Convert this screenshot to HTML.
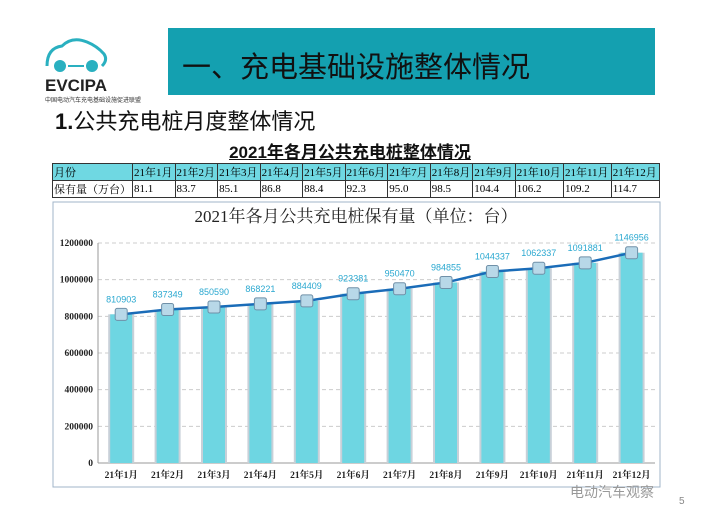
<!DOCTYPE html><html><head><meta charset="utf-8"><style>
body{margin:0;width:717px;height:509px;background:#fff;position:relative;overflow:hidden;font-family:"Liberation Sans","Noto Sans CJK SC",sans-serif}
.a{position:absolute}
table{border-collapse:collapse;font-family:"Liberation Serif","Noto Serif CJK SC",serif;font-size:11px}
td{border:1px solid #333;padding:0 1px;height:16px;white-space:nowrap}
</style></head><body>
<div class="a" style="left:168px;top:28px;width:487px;height:67px;background:#14a0b0"></div>
<div class="a" style="left:182px;top:44px;font-size:29px;color:#111;font-family:'Noto Sans CJK SC',sans-serif">一、充电基础设施整体情况</div>
<svg class="a" style="left:42px;top:36px" width="70" height="40"><path d="M5 30 Q5 12 20 10 Q30 0 45 6 Q55 10 62 18 Q66 24 60 30" fill="none" stroke="#2ab0c0" stroke-width="3"/><circle cx="18" cy="30" r="6" fill="#2ab0c0"/><circle cx="50" cy="30" r="6" fill="#2ab0c0"/><line x1="26" y1="30" x2="42" y2="30" stroke="#2ab0c0" stroke-width="2"/></svg>
<div class="a" style="left:45px;top:76px;font-size:17px;font-weight:bold;color:#222">EVCIPA</div>
<div class="a" style="left:45px;top:95px;font-size:6px;color:#333">中国电动汽车充电基础设施促进联盟</div>
<div class="a" style="left:55px;top:104px;font-size:22px;color:#111"><b>1.</b>公共充电桩月度整体情况</div>
<div class="a" style="left:0;width:700px;top:138px;text-align:center;font-size:17px;font-weight:bold;text-decoration:underline;color:#111">2021年各月公共充电桩整体情况</div>
<table class="a" style="left:52px;top:163px;width:608px">
<tr style="background:#6fd8e2"><td style="width:70px">月份</td><td>21年1月</td><td>21年2月</td><td>21年3月</td><td>21年4月</td><td>21年5月</td><td>21年6月</td><td>21年7月</td><td>21年8月</td><td>21年9月</td><td>21年10月</td><td>21年11月</td><td>21年12月</td></tr>
<tr><td>保有量（万台）</td><td>81.1</td><td>83.7</td><td>85.1</td><td>86.8</td><td>88.4</td><td>92.3</td><td>95.0</td><td>98.5</td><td>104.4</td><td>106.2</td><td>109.2</td><td>114.7</td></tr>
</table>
<svg class="a" style="left:0;top:0" width="717" height="509" font-family="Liberation Serif,Noto Serif CJK SC,serif">
<rect x="53" y="202" width="607" height="285" fill="#fff" stroke="#a0b4c8"/>
<text x="356" y="222" text-anchor="middle" font-size="17" fill="#222">2021年各月公共充电桩保有量（单位：台）</text>
<g id="g"></g>
</svg>
<div class="a" style="left:679px;top:496px;font-size:10px;color:#888">5</div>
<div class="a" style="left:570px;top:482px;font-size:14px;color:#999">电动汽车观察</div>
<script>
const v=[810903,837349,850590,868221,884409,923381,950470,984855,1044337,1062337,1091881,1146956];
const y0=463,sc=220/1200000,x0=98,w=46.4;let s='';
for(let i=0;i<=6;i++){const y=y0-i*200000*sc;s+=`<line x1="98" x2="655" y1="${y}" y2="${y}" stroke="#ccc" stroke-dasharray="4,3"/><text x="93" y="${y+3}" text-anchor="end" font-size="9.5" font-weight="bold" fill="#222">${i*200000}</text>`;}
s+=`<line x1="98" x2="98" y1="243" y2="463" stroke="#999"/><line x1="98" x2="655" y1="463" y2="463" stroke="#999"/>`;
let pts=[];
v.forEach((d,i)=>{const cx=x0+w*(i+0.5),y=y0-d*sc;s+=`<rect x="${cx-13}" y="${y}" width="26" height="${y0-y}" fill="#c8d0d8"/><rect x="${cx-11}" y="${y}" width="22" height="${y0-y}" fill="#6ed6e2"/>`;pts.push([cx,y]);
s+=`<text x="${cx}" y="478" text-anchor="middle" font-size="9.5" font-weight="bold" fill="#222">21年${i+1}月</text>`;});
s+=`<polyline points="${pts.map(p=>p.join(',')).join(' ')}" fill="none" stroke="#1a6cb8" stroke-width="2.5"/>`;
pts.forEach((p,i)=>{s+=`<rect x="${p[0]-6}" y="${p[1]-6}" width="12" height="12" rx="2" fill="#b8d8e8" stroke="#7090a8"/><text x="${p[0]}" y="${p[1]-12}" text-anchor="middle" font-size="9" fill="#2aa8d0" font-family="Liberation Sans,sans-serif">${v[i]}</text>`;});
document.getElementById('g').innerHTML=s;
</script>
</body></html>
